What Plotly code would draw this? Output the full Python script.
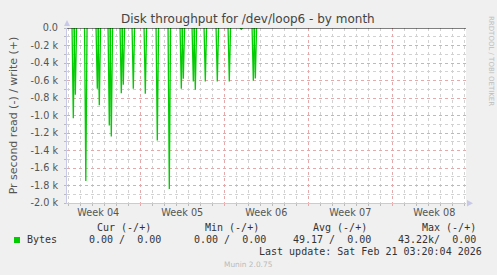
import plotly.graph_objects as go
from datetime import datetime, timedelta

# ---------------- data ----------------
week_labels = ["Week 04", "Week 05", "Week 06", "Week 07", "Week 08"]
week_starts = ["2026-01-19", "2026-01-26", "2026-02-02", "2026-02-09", "2026-02-16"]

spike_times = [
    "2026-01-20 10:00", "2026-01-20 14:00", "2026-01-21 11:00",
    "2026-01-22 10:00", "2026-01-22 14:00", "2026-01-23 10:00", "2026-01-23 14:00",
    "2026-01-24 10:00", "2026-01-24 14:00", "2026-01-25 10:00",
    "2026-01-26 10:00", "2026-01-27 10:00", "2026-01-28 10:00",
    "2026-01-29 10:00", "2026-01-29 14:00", "2026-01-30 10:00", "2026-01-30 14:00",
    "2026-01-31 10:00", "2026-02-01 10:00", "2026-02-02 10:00",
    "2026-02-03 10:00", "2026-02-04 10:00", "2026-02-04 14:00",
]
read_bytes = [
    1030, 762, 1749,
    693, 884, 1113, 1239,
    747, 648, 693,
    750, 1285, 1840,
    693, 579, 610, 705,
    610, 610, 610,
    15, 602, 576,
]

y_ticks = [0, -200, -400, -600, -800, -1000, -1200, -1400, -1600, -1800, -2000]
y_tick_text = ["0.0", "-0.2 k", "-0.4 k", "-0.6 k", "-0.8 k", "-1.0 k",
               "-1.2 k", "-1.4 k", "-1.6 k", "-1.8 k", "-2.0 k"]

legend_headers = ["Cur (-/+)", "Min (-/+)", "Avg (-/+)", "Max (-/+)"]
legend_values = ["0.00 /  0.00", "0.00 /  0.00", "49.17 /  0.00", "43.22k/  0.00"]
last_update = "Last update: Sat Feb 21 03:20:04 2026"

x_start = "2026-01-19 21:24"
x_end = "2026-02-22 03:20"

# ---------------- layout geometry ----------------
W, H = 497, 275
L, R, T, B = 67, 31, 28, 72
PW = W - L - R
PH = H - T - B


def px(x):
    return (x - L) / PW


def py(y):
    return (H - B - y) / PH


# build spike line: each sample drawn as a narrow V (about one RRD step on each side)
step = timedelta(hours=2.5)
xs, ys = [], []
for t, v in zip(spike_times, read_bytes):
    tt = datetime.strptime(t, "%Y-%m-%d %H:%M")
    xs += [tt - step, tt, tt + step, None]
    ys += [0, -v, 0, None]

GREEN = "#00cc00"
fig = go.Figure()
fig.add_trace(go.Scatter(x=xs, y=ys, mode="lines", line=dict(color=GREEN, width=1.3),
                         connectgaps=False, showlegend=False, hoverinfo="skip"))
# invisible trace for the label axis
fig.add_trace(go.Scatter(x=[x_start, x_end], y=[None, None], xaxis="x2",
                         showlegend=False, hoverinfo="skip"))

mid_week = [(datetime.strptime(d, "%Y-%m-%d") + timedelta(days=3.5)) for d in week_starts]

GRID_RED = "#e6a8a8"
GRID_GRAY = "#d2d2d2"
AXIS = "#c8c8e8"
TICK_FONT = dict(family="DejaVu Sans", size=9.7, color="#555555")

fig.update_layout(
    width=W, height=H,
    margin=dict(l=L, r=R, t=T, b=B, pad=0),
    paper_bgcolor="#f0f0f0", plot_bgcolor="#ffffff",
    showlegend=False,
    xaxis=dict(
        type="date", range=[x_start, x_end],
        tickvals=week_starts, showticklabels=False,
        showgrid=True, gridcolor=GRID_RED, griddash="dot", gridwidth=1,
        ticks="outside", ticklen=2, tickcolor=GRID_RED,
        minor=dict(dtick=86400000, tick0="2026-01-19", showgrid=True, gridcolor=GRID_GRAY,
                   griddash="dot", ticks="outside", ticklen=2, tickcolor="#bbbbbb"),
        showline=True, linecolor=AXIS, linewidth=1, zeroline=False, fixedrange=True,
    ),
    xaxis2=dict(
        type="date", range=[x_start, x_end], overlaying="x", anchor="y", side="bottom",
        tickvals=mid_week, ticktext=week_labels, showgrid=False, ticks="",
        tickfont=TICK_FONT, ticklabelstandoff=2, showline=False, zeroline=False,
    ),
    yaxis=dict(
        range=[-2000, 0], tickvals=y_ticks, ticktext=y_tick_text,
        tickfont=TICK_FONT,
        showgrid=True, gridcolor=GRID_RED, griddash="dot", gridwidth=1,
        ticks="outside", ticklen=2, tickcolor="#bbbbbb",
        minor=dict(dtick=100, showgrid=True, gridcolor=GRID_GRAY, griddash="dot",
                   ticks="outside", ticklen=2, tickcolor="#bbbbbb"),
        showline=True, linecolor=AXIS, linewidth=1, zeroline=False,
        ticklabelstandoff=4,
        title=dict(text="Pr second read (-) / write (+)", standoff=10,
                   font=dict(family="DejaVu Sans", size=11, color="#555555")),
    ),
)

# black zero line on top
fig.add_shape(type="line", xref="paper", yref="y", x0=0, x1=1, y0=0, y1=0,
              line=dict(color="#000000", width=1), layer="above")

# axis arrows
ax = L
fig.add_shape(type="path", xref="paper", yref="paper", layer="above",
              path=f"M {px(ax-3)} {py(26)} L {px(ax+3)} {py(26)} L {px(ax)} {py(20)} Z",
              fillcolor=AXIS, line=dict(width=0))
fig.add_shape(type="path", xref="paper", yref="paper", layer="above",
              path=f"M {px(467)} {py(200)} L {px(467)} {py(206.6)} L {px(473)} {py(203.3)} Z",
              fillcolor=AXIS, line=dict(width=0))


def txt(x, y, s, size=10, color="#333333", family="DejaVu Sans Mono", xanchor="left", angle=0):
    fig.add_annotation(x=px(x), y=py(y), xref="paper", yref="paper", text=s.replace(" ", "\u00a0"),
                       showarrow=False, xanchor=xanchor, yanchor="middle", textangle=angle,
                       font=dict(family=family, size=size, color=color), borderpad=0)


# title
txt(248, 19, "Disk throughput for /dev/loop6 - by month", size=12, color="#444444",
    family="DejaVu Sans", xanchor="center")

# rrdtool watermark
txt(491, 61, "RRDTOOL / TOBI OETIKER", size=7, color="#bdbdbd", family="DejaVu Sans",
    xanchor="center", angle=90)

# legend
header_right = [152, 260, 368, 477]
value_right = [162, 267, 372, 477]
for h, xr in zip(legend_headers, header_right):
    txt(xr, 227.5, h, xanchor="right")
fig.add_shape(type="rect", xref="paper", yref="paper",
              x0=px(14), x1=px(20), y0=py(243), y1=py(237),
              fillcolor=GREEN, line=dict(width=0))
txt(26, 239.8, "Bytes")
for v, xr in zip(legend_values, value_right):
    txt(xr, 239.8, v, xanchor="right")
txt(483, 251.8, last_update, xanchor="right")
txt(248, 264, "Munin 2.0.75", size=7.4, color="#bbbbbb", family="DejaVu Sans", xanchor="center")

fig.write_html("out.html")
